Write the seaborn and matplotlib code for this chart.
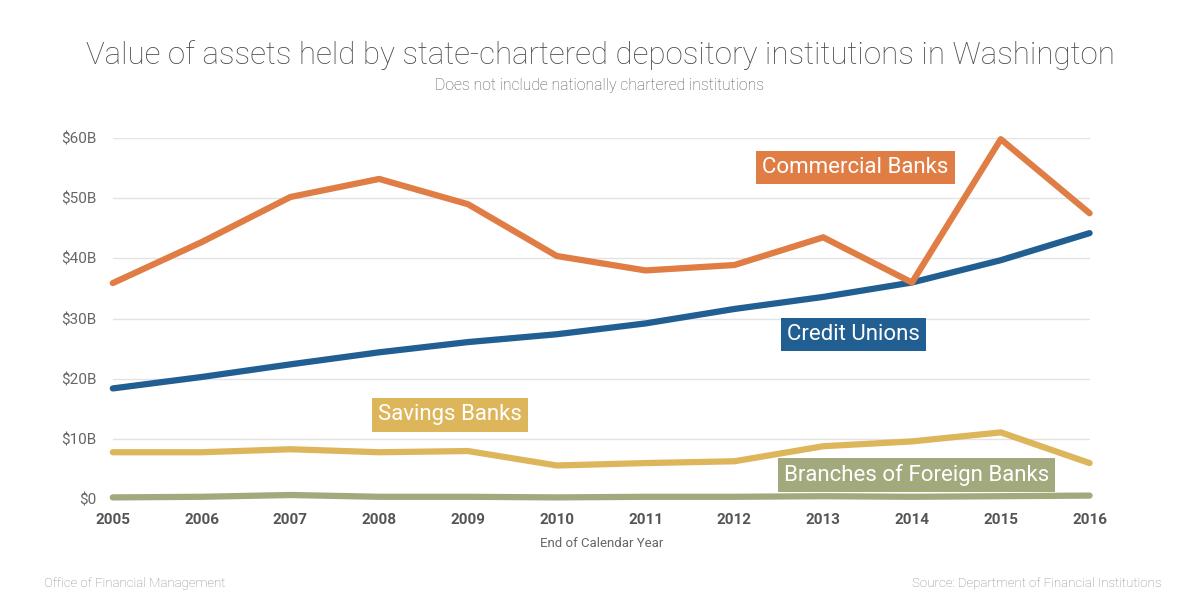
import matplotlib
matplotlib.use("Agg")
import matplotlib.pyplot as plt
import seaborn as sns
import pandas as pd

# Dados (bilhões de dólares)
anos = list(range(2005, 2017))
commercial_banks = [35.9, 42.7, 50.2, 53.2, 49.0, 40.4, 38.0, 38.9, 43.5, 36.0, 59.8, 47.5]
credit_unions = [18.4, 20.3, 22.4, 24.4, 26.1, 27.4, 29.2, 31.6, 33.6, 36.0, 39.7, 44.2]
savings_banks = [7.8, 7.8, 8.3, 7.8, 8.0, 5.6, 6.0, 6.3, 8.8, 9.6, 11.1, 6.0]
foreign_banks = [0.3, 0.4, 0.7, 0.4, 0.4, 0.3, 0.4, 0.4, 0.5, 0.4, 0.5, 0.6]
y_ticks = [0, 10, 20, 30, 40, 50, 60]
y_labels = ["$0", "$10B", "$20B", "$30B", "$40B", "$50B", "$60B"]

series = {
    "Commercial Banks": commercial_banks,
    "Credit Unions": credit_unions,
    "Savings Banks": savings_banks,
    "Branches of Foreign Banks": foreign_banks,
}
cores = {
    "Commercial Banks": "#E07D45",
    "Credit Unions": "#215E92",
    "Savings Banks": "#DDB65C",
    "Branches of Foreign Banks": "#A2A97D",
}

df = pd.DataFrame([
    {"ano": a, "valor": v, "tipo": nome}
    for nome, valores in series.items()
    for a, v in zip(anos, valores)
])

sns.set_style("white")
plt.rcParams["font.family"] = ["Roboto", "DejaVu Sans"]

fig = plt.figure(figsize=(12, 6), dpi=100)
ax = fig.add_axes([0.094, 0.168, 0.814, 0.602])

# linhas de grade
for t in y_ticks:
    ax.axhline(t, color="#e3e3e3", lw=1, zorder=0)

# ordem de desenho: menor por baixo
for nome in ["Branches of Foreign Banks", "Savings Banks", "Credit Unions", "Commercial Banks"]:
    sns.lineplot(data=df[df["tipo"] == nome], x="ano", y="valor", color=cores[nome],
                 lw=4.5, ax=ax, legend=False, clip_on=False, zorder=3)

ax.set_xlim(2005, 2016)
ax.set_ylim(0, 60)
ax.set_xticks(anos)
ax.set_xticklabels([str(a) for a in anos], fontsize=11, fontweight="bold", color="#555555")
ax.set_yticks(y_ticks)
ax.set_yticklabels(y_labels, fontsize=11, color="#666666")
ax.tick_params(axis="both", length=0)
ax.tick_params(axis="x", pad=10)
ax.tick_params(axis="y", pad=12)
for s in ax.spines.values():
    s.set_visible(False)
ax.set_xlabel("End of Calendar Year", fontsize=9.5, color="#666666", labelpad=7)
ax.set_ylabel("")

# rótulos com caixa
rotulos = [
    ("Commercial Banks", 2013.36, 55.1),
    ("Credit Unions", 2013.34, 27.4),
    ("Savings Banks", 2008.8, 14.0),
    ("Branches of Foreign Banks", 2014.05, 4.0),
]
for nome, x, y in rotulos:
    ax.text(x, y, nome, ha="center", va="center", fontsize=16, color="white", zorder=5,
            bbox=dict(boxstyle="square,pad=0.28", fc=cores[nome], ec="none"))

fig.text(0.5, 0.908, "Value of assets held by state-chartered depository institutions in Washington",
         ha="center", va="center", fontsize=22.5, color="#4a4a4a", fontweight="light")
fig.text(0.5, 0.857, "Does not include nationally chartered institutions",
         ha="center", va="center", fontsize=11.3, color="#555555", fontweight="light")
fig.text(0.037, 0.028, "Office of Financial Management", ha="left", va="center",
         fontsize=9.5, color="#888888", fontweight="light")
fig.text(0.968, 0.028, "Source: Department of Financial Institutions", ha="right", va="center",
         fontsize=9.5, color="#888888", fontweight="light")

plt.savefig("out.png", dpi=100)
plt.close()
